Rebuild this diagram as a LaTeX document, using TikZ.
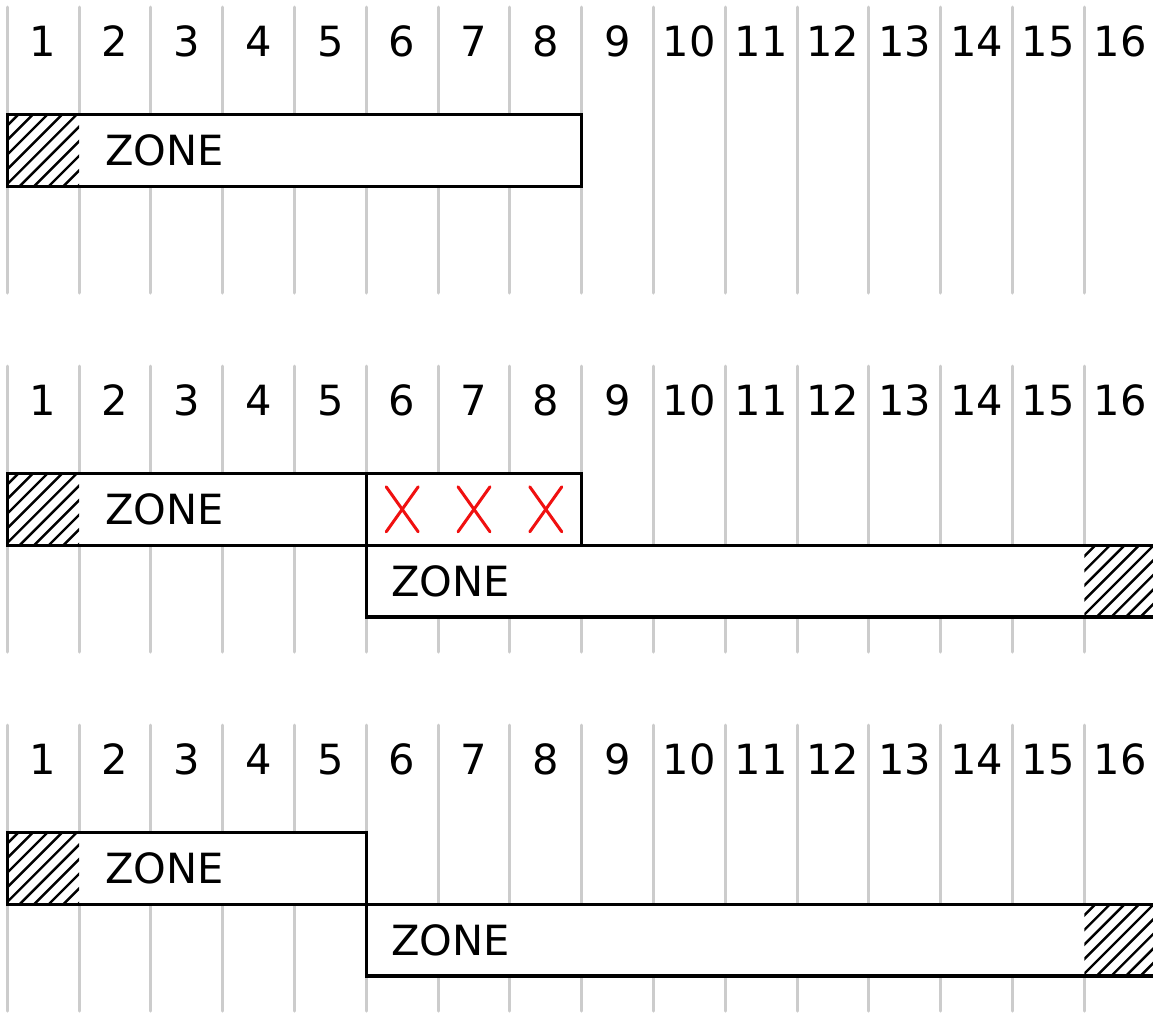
\documentclass[tikz,border=0pt]{standalone}
\usepackage{fontspec}
\setmainfont{DejaVu Sans}
\definecolor{gridcol}{HTML}{CCCCCC}
\definecolor{crosscol}{HTML}{F01010}

\begin{document}
\begin{tikzpicture}[x=0.5pt, y=-0.5pt,
    numlabel/.style={font=\fontsize{20.8}{25}\selectfont, inner sep=0pt, anchor=base},
    zonetext/.style={font=\fontsize{20.8}{25}\selectfont, inner sep=0pt, anchor=base west},
    gridline/.style={gridcol, line width=1.5pt, line cap=round},
    boxline/.style={black, line width=1.7pt},
    hatchline/.style={black, line width=1.2pt},
    crossline/.style={crosscol, line width=1.5pt, line cap=round}]

% ---------- dimensions ----------
\def\colw{71.8}
\def\xo{7.3}

\useasboundingbox (0,0) rectangle (1153,1013);

% ---------- panel macro ----------
\newcommand{\drawpanel}[2]{%
  % #1 = name, #2 = y offset

  % grid
  \foreach \k in {0,...,16} {
    \draw[gridline] ({\xo+\k*\colw},{#2+7}) -- ({\xo+\k*\colw},{#2+293});
  }

  % column numbers
  \foreach \n in {1,...,16} {
    \node[numlabel] (#1-num\n) at ({\xo+(\n-0.5)*\colw},{#2+56.7}) {\n};
  }
}

% ---------- zone box macro ----------
\newcommand{\zonebox}[5]{%
  % #1 = name, #2 = left col, #3 = right col, #4 = top y, #5 = hatch col (-1 = none)
  \coordinate (#1-nw) at ({\xo+#2*\colw},{#4});
  \coordinate (#1-se) at ({\xo+#3*\colw},{#4+\colw});
  \fill[white] (#1-nw) rectangle (#1-se);

  \ifnum#5<0 \else
  \begin{scope}
    \clip ({\xo+#5*\colw},{#4}) rectangle ({\xo+(#5+1)*\colw},{#4+\colw});
    \foreach \d in {-6,...,11} {
      \draw[hatchline] ({\xo+#5*\colw+11+\d*14.6},{#4}) -- ++(-90,90);
    }
  \end{scope}
  \fi

  \draw[boxline] (#1-nw) rectangle (#1-se);
}

% ==================================================
% Panel 1
% ==================================================
\drawpanel{pa}{0}
\zonebox{pa-z1}{0}{8}{114.5}{0}
\node[zonetext] (pa-t1) at ({\xo+\colw+25.5},{114.5+51}) {ZONE};

% ==================================================
% Panel 2
% ==================================================
\drawpanel{pb}{359}
\zonebox{pb-z1}{0}{5}{473.5}{0}
\zonebox{pb-over}{5}{8}{473.5}{-1}
\zonebox{pb-z2}{5}{16}{545.3}{15}
\node[zonetext] (pb-t1) at ({\xo+\colw+25.5},{473.5+51}) {ZONE};
\node[zonetext] (pb-t2) at ({\xo+5*\colw+24.5},{545.3+51}) {ZONE};

% crosses
\foreach \n in {6,7,8} {
  \coordinate (pb-x\n) at ({\xo+(\n-0.5)*\colw},509.3);
  \draw[crossline] ([shift={(-16,-22.5)}]pb-x\n) -- ([shift={(16,22.5)}]pb-x\n);
  \draw[crossline] ([shift={(16,-22.5)}]pb-x\n) -- ([shift={(-16,22.5)}]pb-x\n);
}

% ==================================================
% Panel 3
% ==================================================
\drawpanel{pc}{718}
\zonebox{pc-z1}{0}{5}{832.5}{0}
\zonebox{pc-z2}{5}{16}{904.3}{15}
\node[zonetext] (pc-t1) at ({\xo+\colw+25.5},{832.5+51}) {ZONE};
\node[zonetext] (pc-t2) at ({\xo+5*\colw+24.5},{904.3+51}) {ZONE};

\end{tikzpicture}
\end{document}
